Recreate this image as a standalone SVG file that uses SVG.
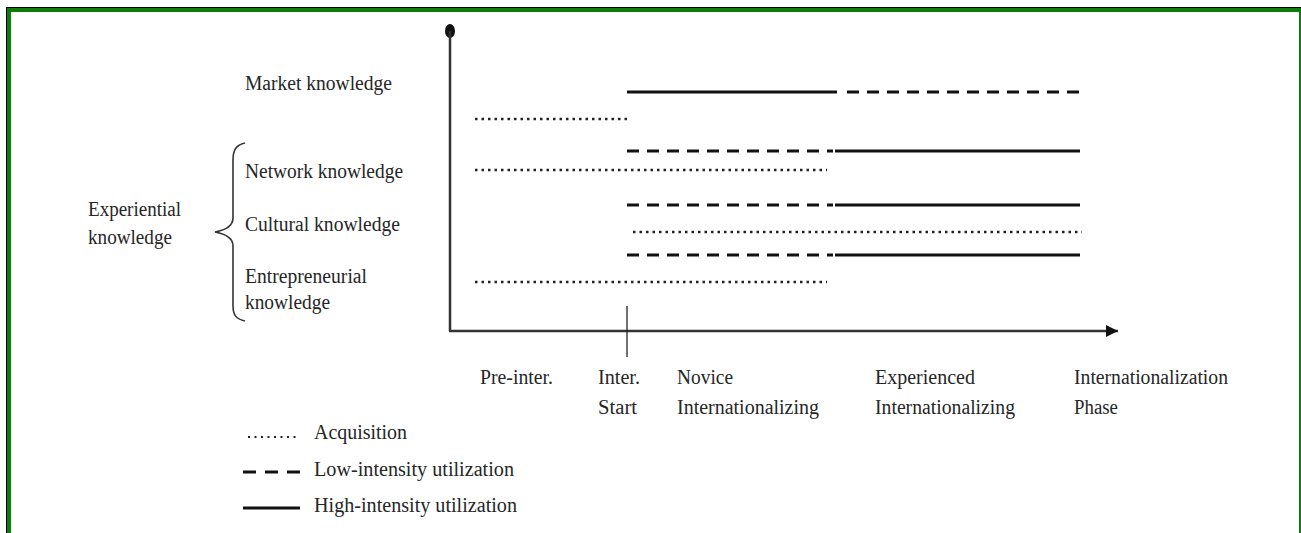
<svg xmlns="http://www.w3.org/2000/svg" width="1301" height="533" viewBox="0 0 1301 533">
  <defs>
    <style>
      .t { font-family: "Liberation Serif", "Times New Roman", serif; font-size: 20px; fill: #262626; }
      .solid { stroke: #111; stroke-width: 3; fill: none; }
      .dash { stroke: #111; stroke-width: 3.2; fill: none; stroke-dasharray: 12 8; }
      .dot { stroke: #222; stroke-width: 2.5; fill: none; stroke-dasharray: 2.5 4; }
      .axis { stroke: #333; stroke-width: 2.5; fill: none; }
    </style>
    <marker id="arrow" viewBox="0 0 10 10" refX="10" refY="5" markerWidth="5" markerHeight="5" orient="auto" markerUnits="strokeWidth">
      <path d="M0,0 L10,5 L0,10 z" fill="#111"/>
    </marker>
  </defs>

  <rect x="0" y="0" width="1301" height="533" fill="#fff"/>
  <g id="frame">
    <rect x="6" y="7" width="1295" height="1" fill="#000"/>
    <rect x="6" y="7" width="1" height="526" fill="#000"/>
    <rect x="7" y="8" width="1294" height="4" fill="#0a7d0a"/>
    <rect x="7" y="8" width="4" height="525" fill="#0a7d0a"/>
    <rect x="1299" y="8" width="2" height="525" fill="#0a7d0a"/>
  </g>

  <g id="axes">
    <ellipse cx="450" cy="31" rx="5" ry="7" fill="#111"/>
    <line class="axis" x1="450" y1="31" x2="450" y2="331"/>
    <line class="axis" x1="449" y1="331" x2="1118" y2="331" marker-end="url(#arrow)"/>
    <line x1="627" y1="306" x2="627" y2="357" stroke="#222" stroke-width="1.3"/>
  </g>

  <g id="labels-left">
    <text class="t" x="245" y="90" textLength="147" lengthAdjust="spacingAndGlyphs">Market knowledge</text>
    <text class="t" x="245" y="178" textLength="158" lengthAdjust="spacingAndGlyphs">Network knowledge</text>
    <text class="t" x="245" y="231" textLength="155" lengthAdjust="spacingAndGlyphs">Cultural knowledge</text>
    <text class="t" x="245" y="283" textLength="122" lengthAdjust="spacingAndGlyphs">Entrepreneurial</text>
    <text class="t" x="245" y="309" textLength="85" lengthAdjust="spacingAndGlyphs">knowledge</text>
    <text class="t" x="88" y="216" textLength="93" lengthAdjust="spacingAndGlyphs">Experiential</text>
    <text class="t" x="88" y="244" textLength="84" lengthAdjust="spacingAndGlyphs">knowledge</text>
    <path d="M245,143 C236,145 233,150 233,160 L233,218 C233,226 226,230 215,232 C226,234 233,238 233,246 L233,306 C233,315 236,319 245,321" fill="none" stroke="#333" stroke-width="1.6"/>
  </g>

  <g id="connectors">
    <line class="solid" x1="627" y1="92" x2="837" y2="92"/>
    <line class="dash" x1="847" y1="92" x2="1080" y2="92"/>
    <line class="dot" x1="475" y1="119" x2="630" y2="119"/>
    <line class="dash" x1="627" y1="151" x2="833" y2="151"/>
    <line class="solid" x1="835" y1="151" x2="1080" y2="151"/>
    <line class="dot" x1="475" y1="170" x2="827" y2="170"/>
    <line class="dash" x1="627" y1="205" x2="833" y2="205"/>
    <line class="solid" x1="835" y1="205" x2="1080" y2="205"/>
    <line class="dot" x1="633" y1="232" x2="1082" y2="232"/>
    <line class="dash" x1="627" y1="255" x2="833" y2="255"/>
    <line class="solid" x1="835" y1="255" x2="1080" y2="255"/>
    <line class="dot" x1="475" y1="282" x2="827" y2="282"/>
  </g>

  <g id="phase-labels">
    <text class="t" x="480" y="384" textLength="73" lengthAdjust="spacingAndGlyphs">Pre-inter.</text>
    <text class="t" x="598" y="384" textLength="42" lengthAdjust="spacingAndGlyphs">Inter.</text>
    <text class="t" x="598" y="414" textLength="39" lengthAdjust="spacingAndGlyphs">Start</text>
    <text class="t" x="677" y="384" textLength="56" lengthAdjust="spacingAndGlyphs">Novice</text>
    <text class="t" x="677" y="414" textLength="142" lengthAdjust="spacingAndGlyphs">Internationalizing</text>
    <text class="t" x="875" y="384" textLength="100" lengthAdjust="spacingAndGlyphs">Experienced</text>
    <text class="t" x="875" y="414" textLength="140" lengthAdjust="spacingAndGlyphs">Internationalizing</text>
    <text class="t" x="1074" y="384" textLength="154" lengthAdjust="spacingAndGlyphs">Internationalization</text>
    <text class="t" x="1074" y="414" textLength="44" lengthAdjust="spacingAndGlyphs">Phase</text>
  </g>

  <g id="legend">
    <line class="dot" x1="248" y1="437" x2="299" y2="437" style="stroke-width:2;stroke-dasharray:2 4.5"/>
    <text class="t" x="314" y="439" textLength="93" lengthAdjust="spacingAndGlyphs">Acquisition</text>
    <line class="dash" x1="243" y1="472" x2="300" y2="472" style="stroke-dasharray:13 9"/>
    <text class="t" x="314" y="476" textLength="200" lengthAdjust="spacingAndGlyphs">Low-intensity utilization</text>
    <line class="solid" x1="243" y1="508" x2="300" y2="508"/>
    <text class="t" x="314" y="512" textLength="203" lengthAdjust="spacingAndGlyphs">High-intensity utilization</text>
  </g>
</svg>
